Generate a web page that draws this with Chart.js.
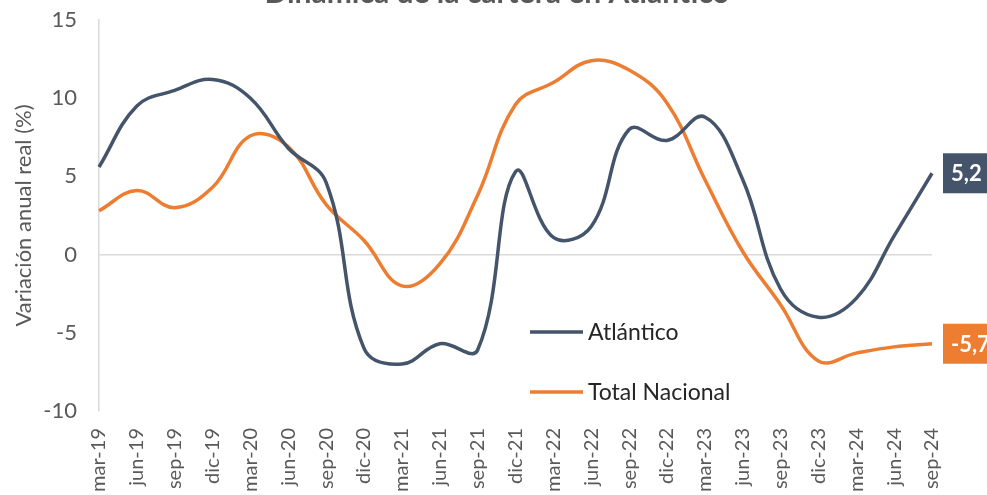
<!DOCTYPE html>
<html lang="es">
<head>
<meta charset="utf-8">
<script src="https://cdn.jsdelivr.net/npm/chart.js@4.4.1/dist/chart.umd.min.js"></script>
<style>
  html, body { margin: 0; padding: 0; background: #fff; overflow: hidden; }
  #wrap { position: relative; width: 987px; height: 495px; }
</style>
</head>
<body>
<div id="wrap"><canvas id="cartera"></canvas></div>
<script>
const trimestres = ['mar-19', 'jun-19', 'sep-19', 'dic-19', 'mar-20', 'jun-20', 'sep-20', 'dic-20',
  'mar-21', 'jun-21', 'sep-21', 'dic-21', 'mar-22', 'jun-22', 'sep-22', 'dic-22',
  'mar-23', 'jun-23', 'sep-23', 'dic-23', 'mar-24', 'jun-24', 'sep-24'];
const atlantico = [5.6, 9.5, 10.5, 11.2, 10.0, 6.8, 4.6, -6.0, -7.0, -5.7, -6.1, 5.3,
  1.1, 1.8, 8.0, 7.3, 8.8, 4.8, -2.2, -4.0, -2.8, 1.2, 5.2];
const totalNacional = [2.8, 4.1, 3.0, 4.3, 7.6, 6.9, 3.2, 0.9, -2.0, -0.6, 3.8, 9.6,
  11.0, 12.4, 11.8, 9.7, 4.8, 0.2, -3.2, -6.8, -6.3, -5.9, -5.7];
const yTicks = [-10, -5, 0, 5, 10, 15];

const FONT = 'Lato, "Open Sans", sans-serif';
const GRIS = '#595959';
const AZUL = '#44546A';
const NARANJA = '#ED7D31';

// titulo, leyenda dentro del grafico y recuadros con el ultimo valor
const extras = {
  id: 'extras',
  afterDraw(chart) {
    const { ctx } = chart;
    ctx.save();

    ctx.font = `bold 30px ${FONT}`;
    ctx.fillStyle = GRIS;
    ctx.textAlign = 'center';
    ctx.textBaseline = 'alphabetic';
    ctx.fillText('Dinámica de la cartera en Atlántico', 497, 2.5);

    chart.data.datasets.forEach((ds, i) => {
      const y = 332 + i * 60;
      ctx.strokeStyle = ds.borderColor;
      ctx.lineWidth = 3.5;
      ctx.beginPath();
      ctx.moveTo(530, y);
      ctx.lineTo(583, y);
      ctx.stroke();
      ctx.fillStyle = '#262626';
      ctx.font = `23px ${FONT}`;
      ctx.textAlign = 'left';
      ctx.textBaseline = 'middle';
      ctx.fillText(ds.label, 588, y + 1);
    });

    chart.data.datasets.forEach((ds, i) => {
      const meta = chart.getDatasetMeta(i);
      const pt = meta.data[meta.data.length - 1];
      const v = ds.data[ds.data.length - 1];
      const txt = v.toFixed(1).replace('.', ',');
      const left = pt.x + 11;
      ctx.fillStyle = ds.borderColor;
      ctx.fillRect(left, pt.y - 20, 80, 40);
      ctx.fillStyle = '#fff';
      ctx.font = `bold 22px ${FONT}`;
      ctx.textAlign = 'left';
      ctx.textBaseline = 'middle';
      ctx.fillText(txt, left + 8, pt.y + 1);
    });

    ctx.restore();
  }
};

new Chart(document.getElementById('cartera'), {
  type: 'line',
  data: {
    labels: trimestres,
    datasets: [
      { label: 'Atlántico', data: atlantico, borderColor: AZUL, backgroundColor: AZUL },
      { label: 'Total Nacional', data: totalNacional, borderColor: NARANJA, backgroundColor: NARANJA }
    ]
  },
  options: {
    responsive: true,
    maintainAspectRatio: false,
    animation: false,
    layout: { padding: { top: 20, right: 55, left: 0, bottom: 0 } },
    elements: {
      line: { borderWidth: 3.5, tension: 0.4, fill: false },
      point: { radius: 0, hoverRadius: 0 }
    },
    datasets: { line: { clip: false } },
    plugins: {
      legend: { display: false },
      title: { display: false },
      tooltip: { enabled: false }
    },
    scales: {
      x: {
        offset: false,
        grid: { display: false, drawTicks: false },
        border: { display: false },
        ticks: {
          color: GRIS,
          font: { family: FONT, size: 20 },
          minRotation: 90,
          maxRotation: 90,
          autoSkip: false,
          padding: 17
        },
        afterFit: s => {
          s.height = 84;
          s.paddingLeft = 0;
          s.paddingRight = 0;
        }
      },
      y: {
        min: -10,
        max: 15,
        afterBuildTicks: s => { s.ticks = yTicks.map(v => ({ value: v })); },
        ticks: { color: GRIS, font: { family: FONT, size: 22 }, padding: 22 },
        grid: {
          drawTicks: false,
          lineWidth: 1.5,
          color: c => (c.tick && c.tick.value === 0 ? '#d9d9d9' : 'rgba(0,0,0,0)')
        },
        border: { display: true, color: '#d9d9d9', width: 1.5 },
        title: {
          display: true,
          text: 'Variación anual real (%)',
          color: GRIS,
          font: { family: FONT, size: 22 },
          padding: { top: 11, bottom: 0 }
        },
        afterFit: s => {
          s.width = 99;
          s.paddingTop = 0;
          s.paddingBottom = 0;
        }
      }
    }
  },
  plugins: [extras]
});
</script>
</body>
</html>
